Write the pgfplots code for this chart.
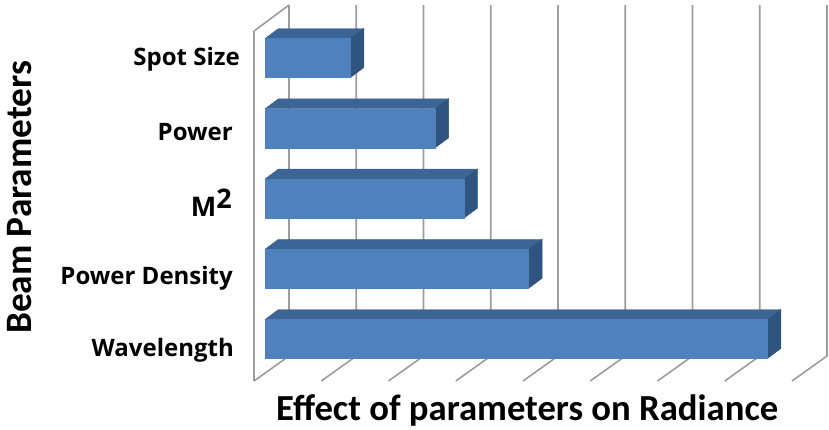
\documentclass[border=0pt]{standalone}
\usepackage{fontspec}
\setmainfont{Carlito}
\newfontfamily\ticklab{Open Sans}
\usepackage{pgfplots}
\pgfplotsset{compat=1.18}
\definecolor{front}{HTML}{4F81BD}
\definecolor{topf}{HTML}{3C6494}
\definecolor{sidef}{HTML}{2F5480}
\definecolor{gridc}{HTML}{9C9C9C}
\begin{document}
\begin{tikzpicture}[x=1bp,y=1bp,
    lab/.style={anchor=east, inner sep=0pt, font=\ticklab\fontsize{24bp}{26bp}\selectfont\bfseries}]
\path[use as bounding box] (0,0) rectangle (829,429);
\begin{axis}[
    at={(0,0)}, anchor=south west,
    scale only axis, width=829bp, height=429bp,
    xmin=-3.941, xmax=8.387, ymin=-1.281, ymax=4.826,
    axis line style={draw=none},
    xtick=\empty, ytick=\empty,
    clip=false,
    xlabel={\fontsize{36.7bp}{38bp}\selectfont\bfseries Effect of parameters on Radiance},
    ylabel={\fontsize{37.3bp}{39bp}\selectfont\bfseries Beam Parameters},
    x label style={at={(axis description cs:0.636,0.044)}, anchor=center},
    y label style={at={(axis description cs:0.023,0.54)}, anchor=center, rotate=0},
    every axis plot/.append style={forget plot},
]
% walls and grid
\addplot[gridc, line width=1.6bp] coordinates {(-0.164,4.384) (0.357,4.754)};
\addplot[gridc, line width=1.6bp] coordinates {(-0.164,-0.598) (-0.164,4.384)};
\addplot[gridc, line width=1.6bp] coordinates {(-0.164,-0.598) (0.357,-0.242) (0.357,4.754)};
\addplot[gridc, line width=1.6bp] coordinates {(0.836,-0.598) (1.357,-0.242) (1.357,4.754)};
\addplot[gridc, line width=1.6bp] coordinates {(1.836,-0.598) (2.357,-0.242) (2.357,4.754)};
\addplot[gridc, line width=1.6bp] coordinates {(2.836,-0.598) (3.357,-0.242) (3.357,4.754)};
\addplot[gridc, line width=1.6bp] coordinates {(3.836,-0.598) (4.357,-0.242) (4.357,4.754)};
\addplot[gridc, line width=1.6bp] coordinates {(4.836,-0.598) (5.357,-0.242) (5.357,4.754)};
\addplot[gridc, line width=1.6bp] coordinates {(5.836,-0.598) (6.357,-0.242) (6.357,4.754)};
\addplot[gridc, line width=1.6bp] coordinates {(6.836,-0.598) (7.357,-0.242) (7.357,4.754)};
\addplot[gridc, line width=1.6bp] coordinates {(7.836,-0.598) (8.357,-0.242) (8.357,4.754)};
% bar tops
\addplot[topf, fill=topf] coordinates {(0,0.278) (7.47,0.278) (7.67,0.42) (0.2,0.42)} -- cycle;
\addplot[topf, fill=topf] coordinates {(0,1.278) (3.92,1.278) (4.12,1.42) (0.2,1.42)} -- cycle;
\addplot[topf, fill=topf] coordinates {(0,2.278) (2.96,2.278) (3.16,2.42) (0.2,2.42)} -- cycle;
\addplot[topf, fill=topf] coordinates {(0,3.278) (2.53,3.278) (2.73,3.42) (0.2,3.42)} -- cycle;
\addplot[topf, fill=topf] coordinates {(0,4.278) (1.27,4.278) (1.47,4.42) (0.2,4.42)} -- cycle;
% bar sides
\addplot[sidef, fill=sidef] coordinates {(7.47,0.278) (7.67,0.42) (7.67,-0.136) (7.47,-0.278)} -- cycle;
\addplot[sidef, fill=sidef] coordinates {(3.92,1.278) (4.12,1.42) (4.12,0.864) (3.92,0.722)} -- cycle;
\addplot[sidef, fill=sidef] coordinates {(2.96,2.278) (3.16,2.42) (3.16,1.864) (2.96,1.722)} -- cycle;
\addplot[sidef, fill=sidef] coordinates {(2.53,3.278) (2.73,3.42) (2.73,2.864) (2.53,2.722)} -- cycle;
\addplot[sidef, fill=sidef] coordinates {(1.27,4.278) (1.47,4.42) (1.47,3.864) (1.27,3.722)} -- cycle;
% bar fronts
\addplot[xbar, bar width=39bp, bar shift=0pt, front, fill=front] coordinates {(7.47,0) (3.92,1) (2.96,2) (2.53,3) (1.27,4)};
% category names
\node[lab] at (axis cs:-0.461,-0.155) {Wavelength};
\node[lab] at (axis cs:-0.476,0.87) {Power Density};
\node[lab, anchor=base east, font=\ticklab\fontsize{27bp}{29bp}\selectfont\bfseries] at (axis cs:-0.491,1.737) {M\raisebox{8bp}{\fontsize{27bp}{29bp}\selectfont 2}};
\node[lab] at (axis cs:-0.476,2.95) {Power};
\node[lab] at (axis cs:-0.372,3.98) {Spot Size};
\end{axis}
\end{tikzpicture}
\end{document}
